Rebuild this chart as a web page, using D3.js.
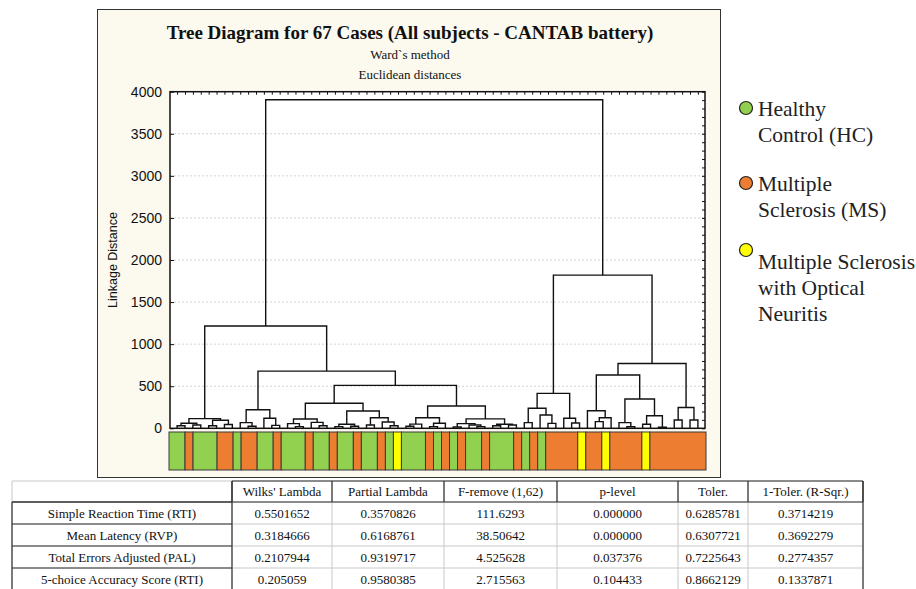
<!DOCTYPE html>
<html><head><meta charset="utf-8">
<script src="https://cdn.jsdelivr.net/npm/d3@7"></script>
<style>body{margin:0;background:#fff} svg{display:block}</style>
</head><body>
<svg id="chart" width="916" height="589"></svg>
<script>
// ---------------- DATA ----------------
const titleText = "Tree Diagram for 67 Cases (All subjects - CANTAB battery)";
const subtitleLines = ["Ward`s method", "Euclidean distances"];
const yAxisTitle = "Linkage Distance";
const yMajorTicks = [0, 500, 1000, 1500, 2000, 2500, 3000, 3500, 4000];
const yDomain = [0, 4000];

// Dendrogram: node = [linkage distance, left, right]; a bare number is a leaf (case order 0..66)
const dendrogram =
 [3905,
  [1215,
    [115, [60, [30, 0, 1], [40, 2, 3]], [95, [30, 4, 5], [45, 6, 7]]],
    [680,
      [220, [67, 8, [25, 9, 10]], [120, 11, [35, 12, 13]]],
      [510,
        [297,
          [110, [55, 14, [20, 15, 16]], [70, 17, [30, 18, 19]]],
          [205, [48, [20, 20, 21], [25, 22, 23]], [126, [40, 24, 25], [75, 26, [30, 27, 28]]]]],
        [265,
          [126, [50, [25, 29, 30], 31], [60, [20, 32, 33], 34]],
          [112, [55, [15, 35, 36], [40, 37, [20, 38, 39]]], [48, [30, 40, 41], [40, 42, 43]]]]]]],
  [1820,
    [415, [238, [67, 44, 45], [158, 46, [59, 47, 48]]], [119, 49, [63, 50, 51]]],
    [770,
      [633,
        [209, 52, [126, [79, 53, 54], 55]],
        [348, [67, 56, [19, 57, 58]], [150, [48, 59, 60], [12, 61, 62]]]],
      [247, [99, 63, 64], [99, 65, 66]]]]];

// Group of each case, in dendrogram leaf order (HC = healthy, MS, ON = MS with optical neuritis)
const leafGroups = [
 "HC","HC","MS","HC","HC","HC","MS","MS","HC","MS",
 "MS","HC","HC","MS","HC","HC","HC","MS","HC","HC",
 "MS","HC","HC","MS","HC","HC","MS","HC","ON","HC",
 "HC","HC","MS","HC","MS","HC","MS","HC","HC","MS",
 "HC","HC","HC","MS","HC","MS","HC","MS","MS","MS",
 "MS","ON","MS","MS","ON","MS","MS","MS","MS","ON",
 "MS","MS","MS","MS","MS","MS","MS"];

const groupKeys = ["HC", "MS", "ON"];
const groupColors = ["#92d050", "#ed7d31", "#ffff00"];
const legendLabels = [["Healthy", "Control (HC)"], ["Multiple", "Sclerosis (MS)"], ["Multiple Sclerosis", "with Optical", "Neuritis"]];

const tableHeader = ["", "Wilks' Lambda", "Partial Lambda", "F-remove (1,62)", "p-level", "Toler.", "1-Toler. (R-Sqr.)"];
const tableRowLabels = ["Simple Reaction Time (RTI)", "Mean Latency (RVP)", "Total Errors Adjusted (PAL)", "5-choice Accuracy Score (RTI)"];
const wilksLambda = ["0.5501652", "0.3184666", "0.2107944", "0.205059"];
const partialLambda = ["0.3570826", "0.6168761", "0.9319717", "0.9580385"];
const fRemove = ["111.6293", "38.50642", "4.525628", "2.715563"];
const pLevel = ["0.000000", "0.000000", "0.037376", "0.104433"];
const toler = ["0.6285781", "0.6307721", "0.7225643", "0.8662129"];
const oneMinusToler = ["0.3714219", "0.3692279", "0.2774357", "0.1337871"];

// ---------------- DRAWING ----------------
const svg = d3.select("#chart");
const serif = "Liberation Serif, Times New Roman, DejaVu Serif, serif";
const sans = "Liberation Sans, Arial, sans-serif";

// panel
svg.append("rect").attr("x", 97.5).attr("y", 9.5).attr("width", 623).attr("height", 468)
  .attr("fill", "#fcf9ef").attr("stroke", "#333").attr("stroke-width", 1);

const plot = {left: 170, right: 705, top: 91.7, bottom: 428.3};
svg.append("rect").attr("x", plot.left).attr("y", plot.top)
  .attr("width", plot.right - plot.left).attr("height", plot.bottom - plot.top).attr("fill", "#fff");

// titles
svg.append("text").attr("x", 410).attr("y", 39).attr("text-anchor", "middle")
  .attr("font-family", serif).attr("font-weight", "bold").attr("font-size", 19).attr("fill", "#111").text(titleText);
subtitleLines.forEach((t, i) => {
  svg.append("text").attr("x", 410).attr("y", 59 + i * 20).attr("text-anchor", "middle")
    .attr("font-family", serif).attr("font-size", 13).attr("fill", "#111").text(t);
});

const y = d3.scaleLinear().domain(yDomain).range([plot.bottom, plot.top]);
const nLeaves = leafGroups.length;
const x = d3.scalePoint().domain(d3.range(nLeaves)).range([plot.left, plot.right]).padding(0.9);
const color = d3.scaleOrdinal().domain(groupKeys).range(groupColors);

// gridlines
svg.append("g").selectAll("line").data(yMajorTicks.filter(v => v > 0 && v < 4000)).join("line")
  .attr("x1", plot.left).attr("x2", plot.right).attr("y1", d => y(d)).attr("y2", d => y(d))
  .attr("stroke", "#c8c8c8").attr("stroke-width", 0.8).attr("stroke-dasharray", "2,2");

// dendrogram
const root = d3.hierarchy(dendrogram, d => Array.isArray(d) ? d.slice(1) : null);
root.eachAfter(n => {
  if (!n.children) { n.px = x(n.data); n.h = 0; }
  else { n.px = d3.mean(n.children, c => c.px); n.h = n.data[0]; }
});
svg.append("g").selectAll("path").data(root.descendants().filter(n => n.children)).join("path")
  .attr("d", n => {
    const [a, b] = n.children;
    return `M${a.px},${y(a.h)}V${y(n.h)}H${b.px}V${y(b.h)}`;
  })
  .attr("fill", "none").attr("stroke", "#111").attr("stroke-width", 1.4);

// axes
const minorTicks = d3.range(0, 4001, 100);
const gL = svg.append("g").attr("transform", `translate(${plot.left},0)`);
gL.call(d3.axisLeft(y).tickValues(minorTicks).tickSize(-3).tickFormat(""));
gL.call(d3.axisLeft(y).tickValues(yMajorTicks).tickSize(-4).tickPadding(8).tickFormat(d3.format("d")));
gL.selectAll("text").attr("font-family", sans).attr("font-size", 14).attr("fill", "#111");
gL.selectAll(".domain").remove();
const gR = svg.append("g").attr("transform", `translate(${plot.right},0)`);
gR.call(d3.axisRight(y).tickValues(minorTicks).tickSize(-3).tickFormat(""));
gR.selectAll(".domain").remove();
const gT = svg.append("g").attr("transform", `translate(0,${plot.top})`);
gT.call(d3.axisTop(x).tickSize(-3).tickFormat(""));
gT.selectAll(".domain").remove();
svg.selectAll(".tick line").attr("stroke", "#111");

svg.append("rect").attr("x", plot.left).attr("y", plot.top)
  .attr("width", plot.right - plot.left).attr("height", plot.bottom - plot.top)
  .attr("fill", "none").attr("stroke", "#111").attr("stroke-width", 1.5);

svg.append("text").attr("transform", `translate(117,${(plot.top + plot.bottom) / 2}) rotate(-90)`)
  .attr("text-anchor", "middle").attr("font-family", sans).attr("font-size", 12.5).attr("fill", "#111").text(yAxisTitle);

// colour strip (contiguous runs of the same group)
const band = d3.scaleBand().domain(d3.range(nLeaves)).range([169, 706]);
const runs = [];
leafGroups.forEach((g, i) => {
  if (runs.length && runs[runs.length - 1].g === g) runs[runs.length - 1].end = i;
  else runs.push({g, start: i, end: i});
});
svg.append("g").selectAll("rect").data(runs).join("rect")
  .attr("x", d => band(d.start)).attr("width", d => band(d.end) + band.bandwidth() - band(d.start))
  .attr("y", 432).attr("height", 38)
  .attr("fill", d => color(d.g)).attr("stroke", "#3a3a3a").attr("stroke-width", 1);

// legend
const legendY = [108, 183, 250];
const legendTextY = [[108, 134], [183, 209], [261, 287, 313]];
groupKeys.forEach((k, i) => {
  svg.append("circle").attr("cx", 746).attr("cy", legendY[i]).attr("r", 6.5)
    .attr("fill", color(k)).attr("stroke", "#222").attr("stroke-width", 1.2);
  legendLabels[i].forEach((t, j) => {
    svg.append("text").attr("x", 758).attr("y", legendTextY[i][j]).attr("dy", "0.35em")
      .attr("font-family", serif).attr("font-size", 21.5).attr("fill", "#222").text(t);
  });
});

// table
const colX = [12, 232, 332, 444, 557, 678, 748, 863];
const rowY = [481, 502, 524, 546, 568, 590];
const tbl = svg.append("g");
const columnsData = [wilksLambda, partialLambda, fRemove, pLevel, toler, oneMinusToler];
tbl.append("rect").attr("x", colX[0]).attr("y", rowY[0]).attr("width", colX[7] - colX[0]).attr("height", rowY[5] - rowY[0]).attr("fill", "#fff");
const light = "#c9c9c9", dark = "#333";
function ln(x1, y1, x2, y2, c, w) {
  tbl.append("line").attr("x1", x1).attr("y1", y1).attr("x2", x2).attr("y2", y2).attr("stroke", c).attr("stroke-width", w);
}
rowY.forEach(r => ln(colX[0], r, colX[7], r, light, 1));
colX.forEach(c => ln(c, rowY[0], c, rowY[5], light, 1));
ln(colX[1], rowY[0], colX[7], rowY[0], dark, 1.2);
ln(colX[0], rowY[1], colX[7], rowY[1], dark, 1.2);
colX.slice(1).forEach(c => ln(c, rowY[0], c, rowY[1], dark, 1.2));
rowY.slice(1).forEach(r => ln(colX[0], r, colX[1], r, dark, 1.2));
ln(colX[0], rowY[1], colX[0], rowY[5], dark, 1.2);
ln(colX[1], rowY[0], colX[1], rowY[5], dark, 1.2);
ln(colX[7], rowY[0], colX[7], rowY[5], dark, 1.2);

tableHeader.forEach((h, i) => {
  tbl.append("text").attr("x", (colX[i] + colX[i + 1]) / 2).attr("y", (rowY[0] + rowY[1]) / 2).attr("dy", "0.35em")
    .attr("text-anchor", "middle").attr("font-family", serif).attr("font-size", 13).attr("fill", "#111").text(h);
});
tableRowLabels.forEach((lab, r) => {
  const cy = (rowY[r + 1] + rowY[r + 2]) / 2;
  tbl.append("text").attr("x", (colX[0] + colX[1]) / 2).attr("y", cy).attr("dy", "0.35em")
    .attr("text-anchor", "middle").attr("font-family", serif).attr("font-size", 13).attr("fill", "#111").text(lab);
  columnsData.forEach((col, c) => {
    tbl.append("text").attr("x", (colX[c + 1] + colX[c + 2]) / 2).attr("y", cy).attr("dy", "0.35em")
      .attr("text-anchor", "middle").attr("font-family", serif).attr("font-size", 13).attr("fill", "#111").text(col[r]);
  });
});
</script>
</body></html>
